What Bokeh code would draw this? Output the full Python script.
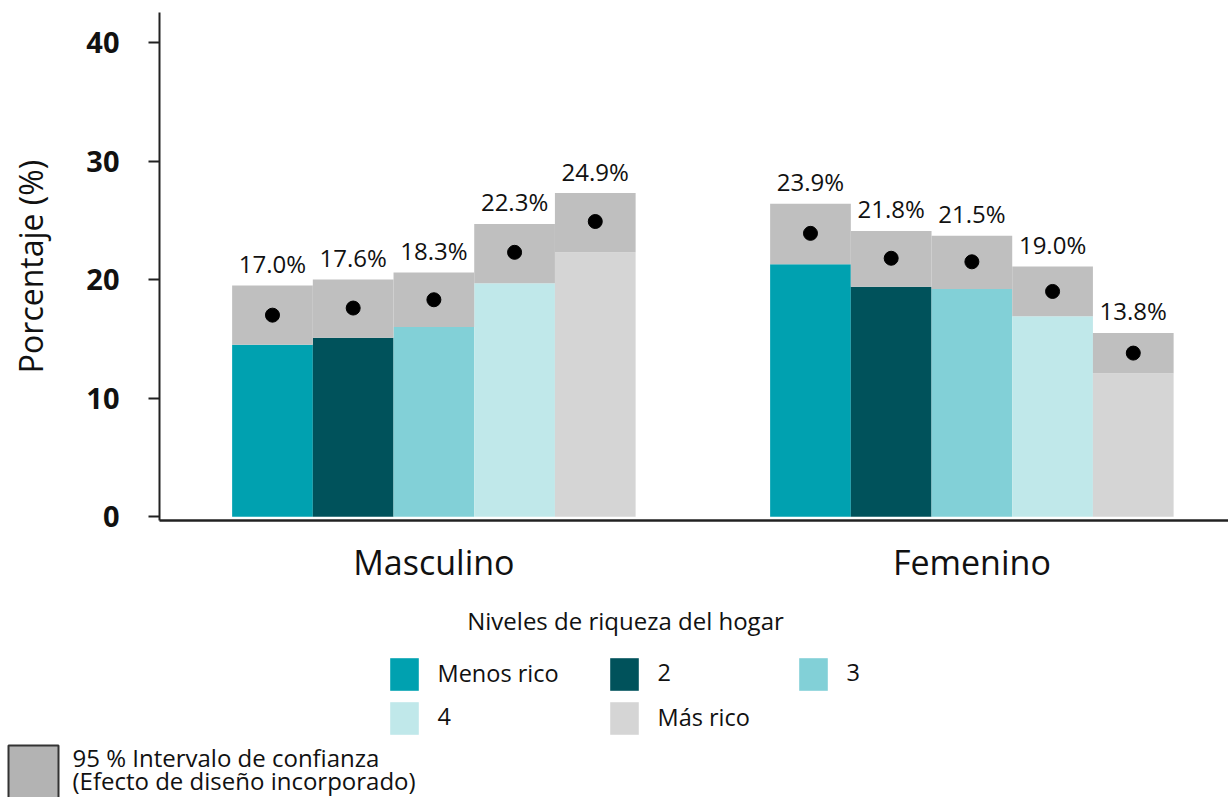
import numpy as np
from bokeh.plotting import figure
from bokeh.models import ColumnDataSource, Range1d, FixedTicker
from bokeh.layouts import column
from bokeh.core.properties import value
from bokeh.embed import file_html
from bokeh.resources import INLINE

# ---------------- data ----------------
groups = ["Masculino", "Femenino"]
levels = ["Menos rico", "2", "3", "4", "Más rico"]
level_colors = ["#00A1B0", "#00525B", "#82D0D7", "#C0E8EA", "#D5D5D5"]

est_masculino = [17.0, 17.6, 18.3, 22.3, 24.9]
lo_masculino = [14.5, 15.1, 16.0, 19.7, 22.3]
hi_masculino = [19.5, 20.0, 20.6, 24.7, 27.3]

est_femenino = [23.9, 21.8, 21.5, 19.0, 13.8]
lo_femenino = [21.3, 19.4, 19.2, 16.9, 12.1]
hi_femenino = [26.4, 24.1, 23.7, 21.1, 15.5]

y_ticks = [0, 10, 20, 30, 40]
y_title = "Porcentaje (%)"
legend_title = "Niveles de riqueza del hogar"
ci_label = ["95 % Intervalo de confianza", "(Efecto de diseño incorporado)"]

FONT = "Open Sans"
BAR_W = 0.15

# ---------------- build table ----------------
xs, est, lo, hi, cols = [], [], [], [], []
for gi, (e_list, l_list, h_list) in enumerate(
        [(est_masculino, lo_masculino, hi_masculino),
         (est_femenino, lo_femenino, hi_femenino)]):
    for li in range(len(levels)):
        xs.append(gi + (li - (len(levels) - 1) / 2) * BAR_W)
        est.append(e_list[li])
        lo.append(l_list[li])
        hi.append(h_list[li])
        cols.append(level_colors[li])

src = ColumnDataSource(dict(x=xs, est=est, lo=lo, hi=hi, color=cols,
                            label=[f"{v:.1f}%" for v in est]))

W = 1228
# ---------------- main chart ----------------
p = figure(width=W, height=590, frame_width=1069, frame_height=508,
           min_border_left=159, min_border_right=0, min_border_top=12, min_border_bottom=70,
           x_range=Range1d(-0.51, 1.477), y_range=Range1d(-0.32, 42.53),
           output_backend="svg", toolbar_location=None)
p.outline_line_color = None
p.xgrid.grid_line_color = None
p.ygrid.grid_line_color = None

p.vbar(x="x", width=BAR_W, bottom=0, top="lo", fill_color="color", line_color=None, source=src)
p.vbar(x="x", width=BAR_W, bottom="lo", top="hi", fill_color="#BFBFBF", line_color=None, source=src)
p.scatter(x="x", y="est", size=14, color="black", source=src)
p.text(x="x", y="hi", text="label", source=src, y_offset=-22,
       text_align="center", text_baseline="alphabetic",
       text_font=value(FONT), text_font_size="24px", text_color="#111111")

# y axis
ya = p.yaxis[0]
ya.ticker = FixedTicker(ticks=y_ticks)
ya.minor_tick_line_color = None
ya.major_tick_out = 11
ya.major_tick_in = 0
ya.major_tick_line_width = 2
ya.major_tick_line_color = "#222222"
ya.axis_line_width = 2
ya.axis_line_color = "#222222"
ya.major_label_text_font = FONT
ya.major_label_text_font_size = "29px"
ya.major_label_text_font_style = "bold"
ya.major_label_text_color = "#111111"
ya.major_label_standoff = 29
ya.axis_label = y_title
ya.axis_label_text_font = FONT
ya.axis_label_text_font_size = "32px"
ya.axis_label_text_font_style = "normal"
ya.axis_label_text_color = "#111111"
ya.axis_label_standoff = 31

# x axis
xa = p.xaxis[0]
xa.ticker = FixedTicker(ticks=list(range(len(groups))))
xa.major_label_overrides = {i: g for i, g in enumerate(groups)}
xa.minor_tick_line_color = None
xa.major_tick_line_color = None
xa.axis_line_width = 2.5
xa.axis_line_color = "#222222"
xa.major_label_text_font = FONT
xa.major_label_text_font_size = "34px"
xa.major_label_text_color = "#111111"
xa.major_label_standoff = 12

# ---------------- legend panel ----------------
LH = 207
lg = figure(width=W, height=LH, frame_width=W, frame_height=LH,
            x_range=Range1d(0, W), y_range=Range1d(LH, 0),
            x_axis_location=None, y_axis_location=None, min_border=0,
            output_backend="svg", toolbar_location=None)
lg.outline_line_color = None
lg.xgrid.grid_line_color = None
lg.ygrid.grid_line_color = None

col_x = [390, 610, 799]
row_y = [68, 112]
sw_l, sw_t, sw_r, sw_b, lab_x, lab_y = [], [], [], [], [], []
for i in range(len(levels)):
    r, c = divmod(i, 3)
    sw_l.append(col_x[c]); sw_r.append(col_x[c] + 28)
    sw_t.append(row_y[r]); sw_b.append(row_y[r] + 32)
    lab_x.append(col_x[c] + 47); lab_y.append(row_y[r] + 14)
lsrc = ColumnDataSource(dict(l=sw_l, r=sw_r, t=sw_t, b=sw_b, color=level_colors,
                             lx=lab_x, ly=lab_y, text=levels))
lg.quad(left="l", right="r", top="t", bottom="b", fill_color="color",
        line_color="color", line_alpha=0.6, source=lsrc)
lg.text(x="lx", y="ly", text="text", source=lsrc, text_baseline="alphabetic",
        text_font=value(FONT), text_font_size="23.5px", text_color="#111111")
lg.text(x=[625], y=[30], text=[legend_title], text_align="center", text_baseline="alphabetic",
        text_font=value(FONT), text_font_size="24px", text_color="#111111")

lg.quad(left=[8], right=[58], top=[155], bottom=[215], fill_color="#B3B3B3",
        line_color="#333333", line_width=2)
lg.text(x=[72, 72], y=[167, 190], text=ci_label, text_baseline="alphabetic",
        text_font=value(FONT), text_font_size="24px", text_color="#111111")

layout = column(column(p), column(lg), spacing=0)
open("out.html", "w").write(file_html(layout, INLINE))
